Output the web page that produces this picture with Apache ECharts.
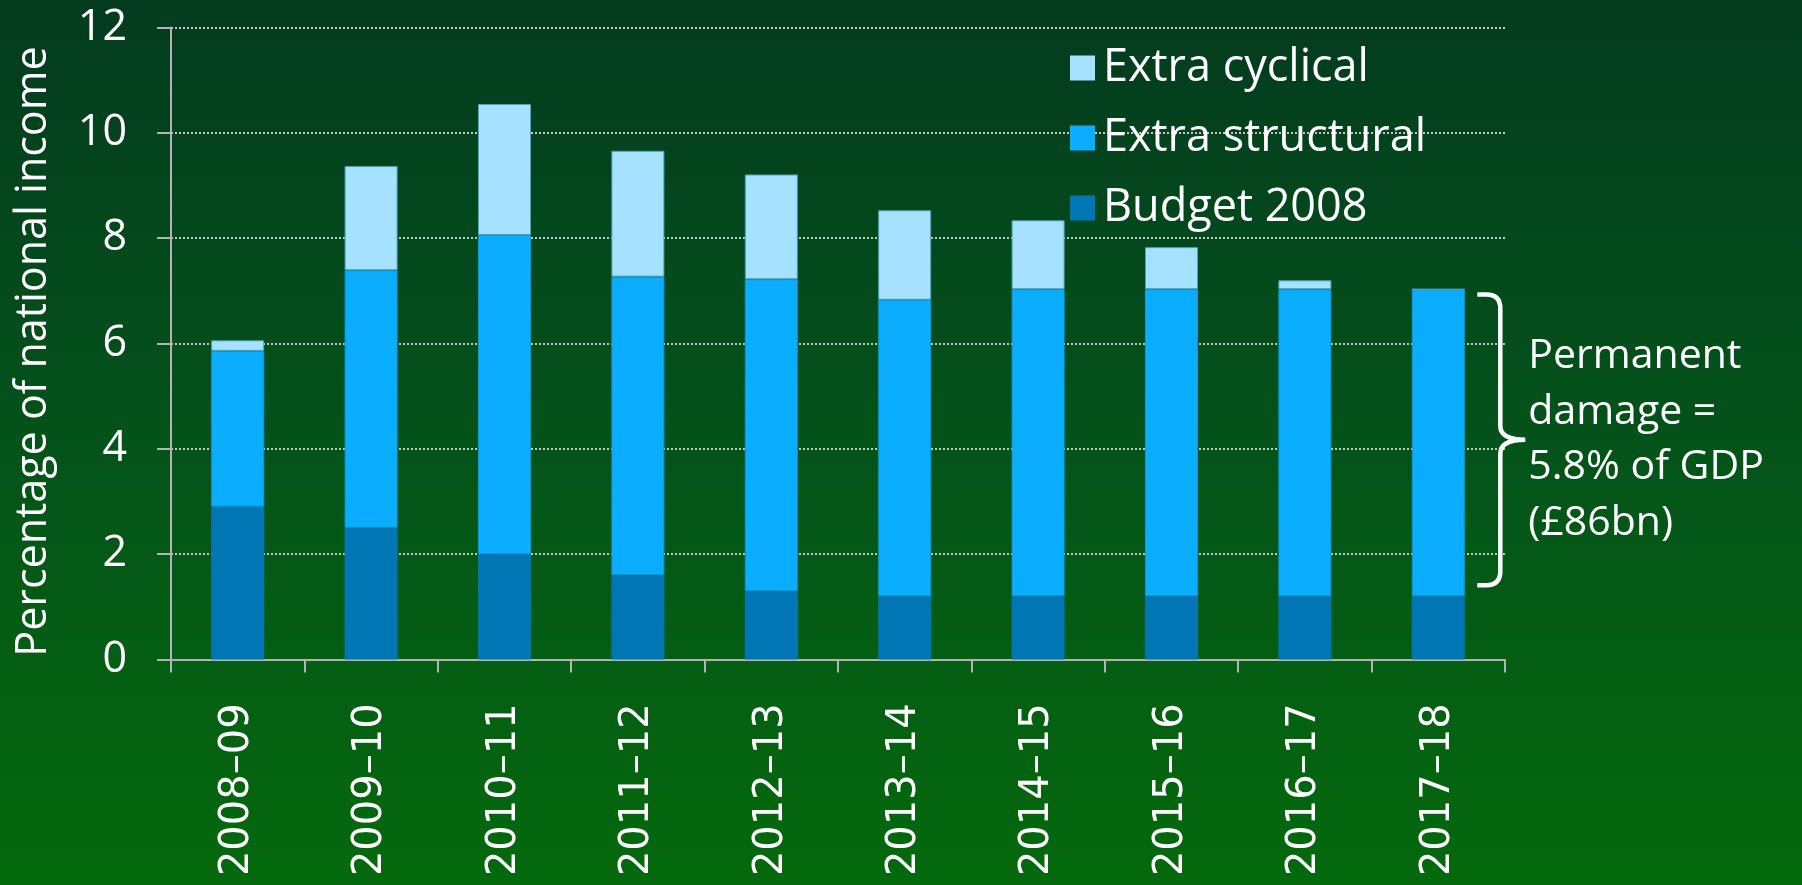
<!DOCTYPE html>
<html>
<head>
<meta charset="utf-8">
<script src="https://cdn.jsdelivr.net/npm/echarts@6/dist/echarts.min.js"></script>
<style>
html,body{margin:0;padding:0;width:1802px;height:885px;overflow:hidden;}
#chart{width:1802px;height:885px;}
</style>
</head>
<body>
<div id="chart"></div>
<script>
const categories = ['2008–09','2009–10','2010–11','2011–12','2012–13','2013–14','2014–15','2015–16','2016–17','2017–18'];
const budget2008 = [2.9, 2.5, 2.0, 1.6, 1.3, 1.2, 1.2, 1.2, 1.2, 1.2];
const extraStructural = [2.96, 4.89, 6.06, 5.67, 5.92, 5.63, 5.83, 5.83, 5.83, 5.83];
const extraCyclical = [0.2, 1.98, 2.49, 2.39, 1.99, 1.7, 1.31, 0.8, 0.17, 0];
const yTicks = { min: 0, max: 12, interval: 2 };
const bracketRange = [1.41, 6.93];
const bracketText = 'Permanent\ndamage =\n5.8% of GDP\n(£86bn)';

const FONT = '"Open Sans", "Noto Sans", sans-serif';
const chart = echarts.init(document.getElementById('chart'));

chart.setOption({
  animation: false,
  backgroundColor: {
    type: 'linear', x: 0, y: 0, x2: 0, y2: 1,
    colorStops: [
      { offset: 0, color: '#033b1f' },
      { offset: 0.5, color: '#04531a' },
      { offset: 1, color: '#04690c' }
    ]
  },
  grid: { left: 171, right: 297, top: 27.6, bottom: 225.6, containLabel: false },
  legend: {
    orient: 'vertical',
    left: 1070,
    top: 43,
    padding: 0,
    itemWidth: 25,
    itemHeight: 25,
    itemGap: 20,
    icon: 'rect',
    itemStyle: { borderWidth: 0 },
    data: ['Extra cyclical', 'Extra structural', 'Budget 2008'],
    textStyle: { color: '#ffffff', fontFamily: FONT, fontSize: 45, lineHeight: 50, padding: [0, 0, 0, 3] }
  },
  xAxis: {
    type: 'category',
    data: categories,
    axisLine: { lineStyle: { color: '#b4b4b4', width: 2 } },
    axisTick: { show: true, length: 13, lineStyle: { color: '#b4b4b4', width: 2 } },
    axisLabel: { rotate: 90, margin: 44, color: '#ffffff', fontFamily: '"DejaVu Sans", sans-serif', fontSize: 40 }
  },
  yAxis: {
    type: 'value',
    min: yTicks.min, max: yTicks.max, interval: yTicks.interval,
    name: 'Percentage of national income',
    nameLocation: 'middle',
    nameRotate: 90,
    nameGap: 116,
    nameTextStyle: { color: '#ffffff', fontFamily: FONT, fontSize: 43, padding: [0, 16, 0, 0] },
    axisLine: { show: true, lineStyle: { color: '#b4b4b4', width: 2 } },
    axisTick: { show: true, length: 14, lineStyle: { color: '#b4b4b4', width: 2 } },
    axisLabel: { color: '#ffffff', fontFamily: FONT, fontSize: 43, margin: 44 },
    splitLine: { show: true, lineStyle: { color: '#c4c8c4', width: 2, type: [2, 2] } }
  },
  series: [
    {
      name: 'Budget 2008', type: 'bar', stack: 'total', barWidth: 53,
      itemStyle: { color: '#0077b4' },
      data: budget2008
    },
    {
      name: 'Extra structural', type: 'bar', stack: 'total', barWidth: 53,
      itemStyle: { color: '#0aadff', borderColor: '#0a9ad8', borderWidth: 1 },
      data: extraStructural
    },
    {
      name: 'Extra cyclical', type: 'bar', stack: 'total', barWidth: 53,
      itemStyle: { color: '#a6e1ff', borderColor: '#4aa6bc', borderWidth: 1 },
      data: extraCyclical
    },
    {
      type: 'custom',
      silent: true,
      z: 10,
      data: [[categories.length - 1, bracketRange[0], bracketRange[1]]],
      renderItem: function (params, api) {
        const bot = api.coord([api.value(0), api.value(1)]);
        const top = api.coord([api.value(0), api.value(2)]);
        const cx = bot[0];
        const xl = cx + 39, xv = cx + 62, xs = cx + 87;
        const yt = top[1], yb = bot[1], ym = (yt + yb) / 2;
        const r = 14;
        const path = 'M' + xl + ' ' + yt +
          ' L' + (xv - r) + ' ' + yt +
          ' Q' + xv + ' ' + yt + ' ' + xv + ' ' + (yt + r) +
          ' L' + xv + ' ' + (ym - r) +
          ' Q' + xv + ' ' + ym + ' ' + xs + ' ' + ym +
          ' Q' + xv + ' ' + ym + ' ' + xv + ' ' + (ym + r) +
          ' L' + xv + ' ' + (yb - r) +
          ' Q' + xv + ' ' + yb + ' ' + (xv - r) + ' ' + yb +
          ' L' + xl + ' ' + yb;
        return {
          type: 'group',
          children: [
            { type: 'path', shape: { pathData: path }, style: { fill: null, stroke: '#ffffff', lineWidth: 4.5 } },
            { type: 'text', style: { x: xs + 3, y: ym, text: bracketText, fill: '#ffffff', font: '41px ' + FONT, lineHeight: 55.5, textAlign: 'left', textVerticalAlign: 'middle' } }
          ]
        };
      }
    }
  ]
});
</script>
</body>
</html>
